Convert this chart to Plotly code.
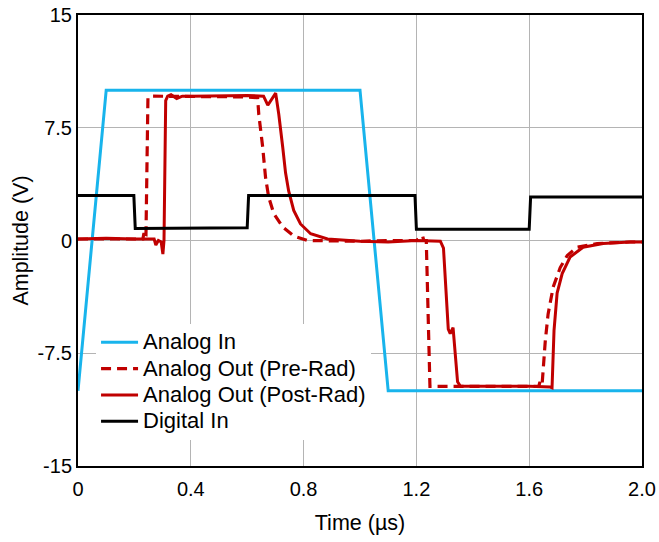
import plotly.graph_objects as go

# ---- data ----
t_in = [0.0, 0.1, 1.0, 1.1, 2.0]
v_in = [-10.0, 10.0, 10.0, -10.0, -10.0]

t_dig = [0.0, 0.198, 0.203, 0.6, 0.605, 1.195, 1.2, 1.6, 1.605, 2.0]
v_dig = [3.0, 3.0, 0.8, 0.85, 3.0, 3.0, 0.75, 0.75, 2.9, 2.9]

t_pre = [0.0, 0.1, 0.2, 0.230, 0.234, 0.238, 0.241, 0.248, 0.26, 0.3, 0.4, 0.5, 0.6,
         0.637, 0.641, 0.655, 0.665, 0.676, 0.694, 0.726, 0.765, 0.814, 0.906,
         1.0, 1.1, 1.2, 1.222, 1.226, 1.235, 1.248, 1.26, 1.3, 1.4, 1.5, 1.6,
         1.634, 1.638, 1.642, 1.646, 1.657, 1.667, 1.685, 1.710, 1.735, 1.770,
         1.841, 1.958, 2.0]
v_pre = [0.1, 0.12, 0.1, 0.1, 0.5, 0.1, 0.3, 9.5, 9.6, 9.6, 9.6, 9.6, 9.55,
         9.5, 8.4, 6.2, 4.2, 2.9, 1.8, 0.9, 0.3, 0.0, -0.05,
         -0.05, 0.0, 0.0, 0.3, 0.0, 0.0, -9.7, -9.7, -9.7, -9.7, -9.7, -9.7,
         -9.7, -9.4, -9.6, -9.5, -6.7, -4.9, -3.1, -1.8, -1.0, -0.45,
         -0.2, -0.1, -0.1]

t_post = [0.0, 0.1, 0.2, 0.27, 0.276, 0.285, 0.295, 0.301, 0.305, 0.311, 0.318,
          0.33, 0.35, 0.37, 0.4, 0.5, 0.6, 0.658, 0.673, 0.701, 0.712, 0.726,
          0.736, 0.747, 0.765, 0.789, 0.825, 0.885, 0.966, 1.0, 1.1, 1.2,
          1.285, 1.296, 1.313, 1.320, 1.330, 1.338, 1.346, 1.356, 1.4, 1.5,
          1.6, 1.675, 1.681, 1.688, 1.699, 1.717, 1.745, 1.791, 1.862, 1.958, 2.0]
v_post = [0.1, 0.15, 0.1, 0.1, -0.3, 0.0, -0.1, -0.9, 0.0, 9.3, 9.6,
          9.7, 9.45, 9.6, 9.6, 9.65, 9.65, 9.6, 9.0, 9.8, 8.4, 6.2,
          4.5, 3.3, 2.0, 1.1, 0.45, 0.1, 0.0, -0.05, -0.1, 0.0,
          -0.05, -0.5, -5.9, -6.2, -5.8, -7.9, -9.4, -9.7, -9.7, -9.7,
          -9.7, -9.75, -9.8, -6.0, -3.5, -2.2, -1.1, -0.45, -0.2, -0.1, -0.1]

names = ["Analog In", "Analog Out (Pre-Rad)", "Analog Out (Post-Rad)", "Digital In"]

x_ticks = [0, 0.4, 0.8, 1.2, 1.6, 2.0]
x_ticktext = ["0", "0.4", "0.8", "1.2", "1.6", "2.0"]
y_ticks = [-15, -7.5, 0, 7.5, 15]
y_ticktext = ["-15", "-7.5", "0", "7.5", "15"]

FONT = "Liberation Sans, Arial, sans-serif"
BLUE = "#18B4EC"
RED = "#C00000"


def lab(s):
    return '<span style="font-size:22px">' + s + '</span>'


fig = go.Figure()
fig.add_trace(go.Scatter(x=t_in, y=v_in, mode="lines", name=lab(names[0]),
                         line=dict(color=BLUE, width=3)))
fig.add_trace(go.Scatter(x=t_pre, y=v_pre, mode="lines", name=lab(names[1]),
                         line=dict(color=RED, width=3.2, dash="10px,6px")))
fig.add_trace(go.Scatter(x=t_post, y=v_post, mode="lines", name=lab(names[2]),
                         line=dict(color=RED, width=3)))
fig.add_trace(go.Scatter(x=t_dig, y=v_dig, mode="lines", name=lab(names[3]),
                         line=dict(color="black", width=3)))

axis_common = dict(showgrid=True, gridcolor="#B4B4B4", gridwidth=1,
                   showline=True, linecolor="black", linewidth=2, mirror=True,
                   zeroline=False, automargin=False,
                   tickfont=dict(family=FONT, size=20, color="black"))

fig.update_layout(
    width=659, height=542,
    margin=dict(l=78, r=17, t=15, b=76),
    paper_bgcolor="white", plot_bgcolor="white",
    font=dict(family=FONT, size=20, color="black"),
    showlegend=True,
    legend=dict(x=0.032, y=0.315, xanchor="left", yanchor="top",
                bgcolor="white", borderwidth=0, itemwidth=37,
                font=dict(family=FONT, size=18, color="black")),
    xaxis=dict(range=[0, 2], tickvals=x_ticks, ticktext=x_ticktext,
               ticks="outside", ticklen=4, tickcolor="rgba(0,0,0,0)",
               title=dict(text="Time (µs)", font=dict(family=FONT, size=21.5), standoff=16),
               **axis_common),
    yaxis=dict(range=[-15, 15], tickvals=y_ticks, ticktext=y_ticktext,
               ticks="",
               title=dict(text="Amplitude (V)", font=dict(family=FONT, size=21.5), standoff=3),
               **axis_common),
)

fig.write_html("out.html", config={"displayModeBar": False},
               post_script="document.body.style.margin='0px';")
